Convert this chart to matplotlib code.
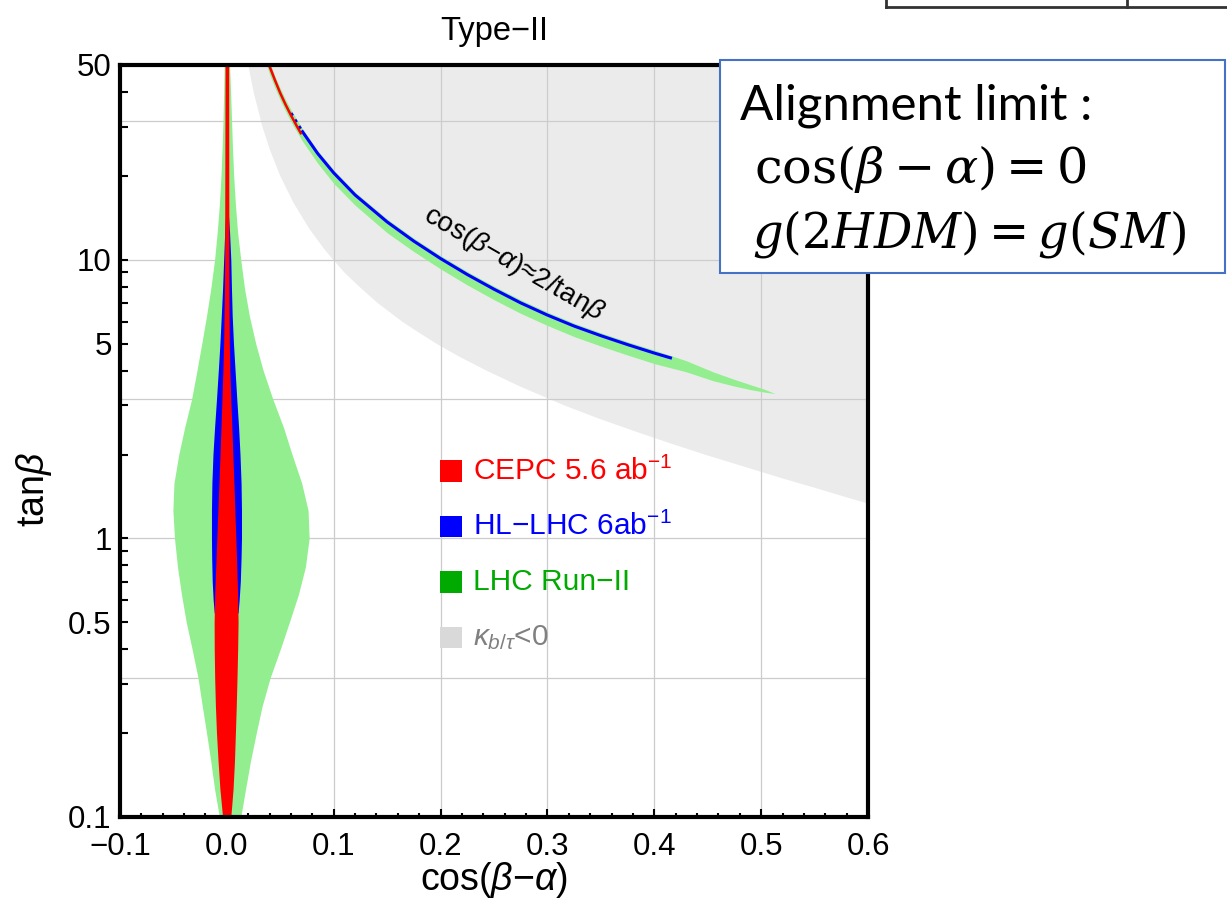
import matplotlib
matplotlib.use('Agg')
import matplotlib.pyplot as plt
import numpy as np
from matplotlib.patches import Rectangle
from matplotlib.lines import Line2D
from matplotlib.ticker import MultipleLocator, LogLocator, NullFormatter, FuncFormatter

# ---- data ----
# kappa_b/tau < 0 region boundary (gray)
gray_tb = [50, 40, 30, 25, 20, 16, 13, 11, 10, 9, 8, 7, 6, 5.5, 5, 4.5, 4, 3.5, 3,
           2.7, 2.4, 2.2, 2.0, 1.8, 1.65, 1.5, 1.4, 1.33]
gray_x = [0.0200, 0.0250, 0.0333, 0.0400, 0.0499, 0.0624, 0.0767, 0.0905, 0.0995, 0.110,
          0.124, 0.141, 0.164, 0.179, 0.196, 0.217, 0.243, 0.275, 0.316, 0.347, 0.385,
          0.414, 0.447, 0.486, 0.518, 0.555, 0.581, 0.601]

# LHC Run-II, central (alignment) band
green_c_tb = [0.1, 0.126, 0.158, 0.2, 0.25, 0.316, 0.4, 0.5, 0.63, 0.79, 1.0, 1.26, 1.58,
              2.0, 2.5, 3.16, 4.0, 5.0, 6.3, 7.9, 10, 12.6, 15.8, 20, 25, 31.6, 40, 50]
green_c_left = [-0.0070, -0.0115, -0.0150, -0.0190, -0.0230, -0.0270, -0.0325, -0.0380,
                -0.0425, -0.0462, -0.0490, -0.0505, -0.0495, -0.0450, -0.0395, -0.0330,
                -0.0280, -0.0235, -0.0190, -0.0150, -0.0115, -0.0090, -0.0070, -0.0055,
                -0.0045, -0.0036, -0.0030, -0.0025]
green_c_right = [0.0130, 0.0175, 0.0220, 0.0275, 0.0330, 0.0405, 0.0500, 0.0585, 0.0670,
                 0.0735, 0.0770, 0.0760, 0.0700, 0.0610, 0.0530, 0.0430, 0.0340, 0.0270,
                 0.0210, 0.0165, 0.0130, 0.0100, 0.0080, 0.0064, 0.0053, 0.0044, 0.0035,
                 0.0025]

# HL-LHC, central band
blue_c_tb = [0.54, 0.6, 0.7, 0.85, 1.0, 1.26, 1.58, 2.0, 2.5, 3.16, 4.0, 5.0, 6.3, 7.9,
             10, 12.6, 15, 17]
blue_c_left = [-0.0118, -0.0128, -0.0137, -0.0142, -0.0144, -0.0144, -0.0140, -0.0130,
               -0.0115, -0.0097, -0.0080, -0.0065, -0.0052, -0.0040, -0.0030, -0.0020,
               -0.0010, 0.0]
blue_c_right = [0.0105, 0.0115, 0.0126, 0.0133, 0.0137, 0.0137, 0.0133, 0.0123, 0.0110,
                0.0093, 0.0077, 0.0062, 0.0050, 0.0043, 0.0037, 0.0025, 0.0012, 0.0005]

# CEPC, central band
red_c_tb = [0.1, 0.126, 0.158, 0.2, 0.25, 0.316, 0.4, 0.5, 0.63, 0.79, 1.0, 1.26, 1.58,
            2.0, 2.5, 3.16, 4.0, 5.0, 7.0, 10, 20, 50]
red_c_left = [-0.0040, -0.0065, -0.0082, -0.0097, -0.0107, -0.0114, -0.0118, -0.0119,
              -0.0114, -0.0104, -0.0094, -0.0084, -0.0074, -0.0064, -0.0055, -0.0046,
              -0.0037, -0.0030, -0.0024, -0.0021, -0.0019, -0.0017]
red_c_right = [0.0037, 0.0058, 0.0071, 0.0080, 0.0088, 0.0095, 0.0101, 0.0105, 0.0101,
               0.0093, 0.0084, 0.0075, 0.0066, 0.0056, 0.0047, 0.0037, 0.0028, 0.0023,
               0.0020, 0.0019, 0.0018, 0.0017]

# wrong-sign band, cos(b-a) ~ 2/tan(b)
green_w_x = [0.036, 0.040, 0.045, 0.050, 0.055, 0.060, 0.070, 0.085, 0.100, 0.120, 0.150,
             0.175, 0.200, 0.225, 0.250, 0.275, 0.300, 0.325, 0.350, 0.375, 0.400, 0.430,
             0.455, 0.475, 0.490, 0.503, 0.513]
green_w_hi = [56.7, 51.0, 45.6, 41.2, 37.5, 34.5, 29.8, 24.6, 21.0, 17.5, 14.0, 11.95,
              10.35, 9.07, 8.04, 7.18, 6.49, 5.92, 5.47, 5.08, 4.74, 4.34, 3.96, 3.72,
              3.56, 3.43, 3.31]
green_w_lo = [51.5, 46.3, 41.4, 37.4, 34.1, 31.3, 26.9, 22.2, 18.8, 15.7, 12.5, 10.7,
              9.27, 8.12, 7.19, 6.42, 5.81, 5.30, 4.90, 4.55, 4.24, 3.96, 3.68, 3.52,
              3.42, 3.35, 3.31]

blue_w_x = [0.070, 0.085, 0.100, 0.120, 0.150, 0.175, 0.200, 0.225, 0.250, 0.275, 0.300,
            0.325, 0.350, 0.375, 0.400, 0.4165]
blue_w_tb = [29.1, 24.06, 20.5, 17.08, 13.67, 11.66, 10.1, 8.85, 7.84, 7.0, 6.33, 5.78,
             5.34, 4.96, 4.625, 4.43]
blue_dot_x = [0.060, 0.070]
blue_dot_tb = [33.6, 29.1]

red_w_x = [0.0395, 0.045, 0.050, 0.055, 0.060, 0.065, 0.0698]
red_w_tb = [50, 44.1, 39.6, 36.0, 33.0, 30.4, 28.2]

ytick_vals = [0.1, 0.5, 1, 5, 10, 50]
ytick_labels = ['0.1', '0.5', '1', '5', '10', '50']
ygrid_vals = [0.316, 1, 3.16, 10, 31.6]
xgrid_vals = [0.0, 0.1, 0.2, 0.3, 0.4, 0.5]

legend_labels = ['CEPC 5.6 ab$^{-1}$', 'HL\u2212LHC 6ab$^{-1}$', 'LHC Run\u2212II', r'$\kappa_{b/\tau}$<0']
legend_box_colors = ['#FF0000', '#0000FF', '#00AA00', '#D9D9D9']
legend_text_colors = ['#FF0000', '#0000FF', '#00AA00', '#808080']

# ---- style ----
plt.rcParams['font.family'] = ['Liberation Sans', 'DejaVu Sans']
plt.rcParams['mathtext.fontset'] = 'custom'
plt.rcParams['mathtext.rm'] = 'Liberation Sans'
plt.rcParams['mathtext.it'] = 'Liberation Sans:italic'
plt.rcParams['mathtext.bf'] = 'Liberation Sans:bold'

W, H = 1227, 919
fig = plt.figure(figsize=(W / 100, H / 100), dpi=100)
ax = fig.add_axes([120 / W, 1 - 817 / H, 748 / W, 752 / H])
ax.set_yscale('log')

LIGHTGREEN = '#92EE8F'

ax.fill(gray_x + [0.6], gray_tb + [50], color='#EBEBEB', lw=0, zorder=1)

for yv in ygrid_vals:
    ax.axhline(yv, color='#CCCCCC', lw=0.9, zorder=1.5)
for xv in xgrid_vals:
    ax.axvline(xv, color='#CCCCCC', lw=0.9, zorder=1.5)

# central bands
ax.fill_betweenx(green_c_tb, green_c_left, green_c_right, color=LIGHTGREEN, lw=0, zorder=2)
ax.fill_betweenx(blue_c_tb, blue_c_left, blue_c_right, color='#0000FF', lw=0, zorder=3)
ax.fill_betweenx(red_c_tb, red_c_left, red_c_right, color='#FF0000', lw=0, zorder=4)

# wrong-sign band
ax.fill_between(green_w_x, green_w_lo, green_w_hi, color=LIGHTGREEN, lw=0, zorder=2)
ax.plot(blue_w_x, blue_w_tb, color='#0000FF', lw=2.2, solid_capstyle='butt', zorder=3)
ax.plot(blue_dot_x, blue_dot_tb, color='#0000FF', lw=2.2, ls=(0, (1, 1.5)), zorder=3)
ax.plot(red_w_x, red_w_tb, color='#FF0000', lw=1.8, solid_capstyle='butt', zorder=4)

ax.text(0.268, 9.7, 'cos($\\beta$\u2212$\\alpha$)\u22482/tan$\\beta$', fontsize=20,
        rotation=-30, rotation_mode='anchor', ha='center', va='center', zorder=5)

ax.set_xlim(-0.1, 0.6)
ax.set_ylim(0.1, 50)

ax.xaxis.set_major_locator(MultipleLocator(0.1))
ax.xaxis.set_minor_locator(MultipleLocator(0.02))
ax.xaxis.set_major_formatter(FuncFormatter(
    lambda v, p: '0.0' if abs(v) < 1e-9 else f'{v:.1f}'.replace('-', '\u2212')))
ax.set_yticks(ytick_vals)
ax.set_yticklabels(ytick_labels)
ax.yaxis.set_minor_locator(LogLocator(base=10, subs=np.arange(2, 10)))
ax.yaxis.set_minor_formatter(NullFormatter())

ax.tick_params(which='both', direction='in', top=False, right=False, width=1.5,
               labelsize=22.5, color='black')
ax.tick_params(axis='x', which='major', length=6, pad=11)
ax.tick_params(axis='x', which='minor', length=3)
ax.tick_params(axis='y', which='both', length=6, pad=6)
for sp in ax.spines.values():
    sp.set_linewidth(3)
    sp.set_zorder(10)

ax.set_xlabel('cos($\\beta$\u2212$\\alpha$)', fontsize=27)
ax.xaxis.set_label_coords(0.5, -0.057)
ax.set_ylabel('tan$\\beta$', fontsize=27)
ax.yaxis.set_label_coords(-0.088, 0.435)
ax.set_title('Type\u2212II', fontsize=23.5, pad=18)

# legend drawn by hand
for i in range(len(legend_labels)):
    yc = 0.460 - i * 0.0738
    ax.add_patch(Rectangle((0.428, yc - 0.0145), 0.029, 0.029, transform=ax.transAxes,
                           facecolor=legend_box_colors[i], lw=0, zorder=6))
    ax.text(0.472, yc, legend_labels[i], transform=ax.transAxes, fontsize=21.5,
            color=legend_text_colors[i], ha='left', va='center', zorder=6)

# alignment-limit box
fig.add_artist(Rectangle((720 / W, 1 - 273 / H), (1225 - 720) / W, (273 - 60) / H,
                         transform=fig.transFigure, facecolor='white',
                         edgecolor='#4472C4', lw=1.5, zorder=20))
fig.text(740 / W, 1 - 119 / H, 'Alignment limit :', fontsize=35.5, family=['Lato', 'DejaVu Sans'],
         va='baseline', ha='left', zorder=21)
fig.text(754 / W, 1 - 183 / H, r'$\cos(\beta-\alpha)=0$', fontsize=35.5,
         math_fontfamily='dejavuserif', va='baseline', ha='left', zorder=21)
fig.text(752 / W, 1 - 247 / H, r'$g(2HDM)=g(SM)$', fontsize=34.5,
         math_fontfamily='dejavuserif', va='baseline', ha='left', zorder=21)

# fragment of a table at the top right
fig.add_artist(Line2D([886 / W, 1227 / W], [1 - 7 / H, 1 - 7 / H], transform=fig.transFigure,
                      color='#333333', lw=2))
for xv in [886, 1127]:
    fig.add_artist(Line2D([xv / W, xv / W], [1.0, 1 - 7 / H], transform=fig.transFigure,
                          color='#333333', lw=2))

fig.savefig('out.png', dpi=100)
